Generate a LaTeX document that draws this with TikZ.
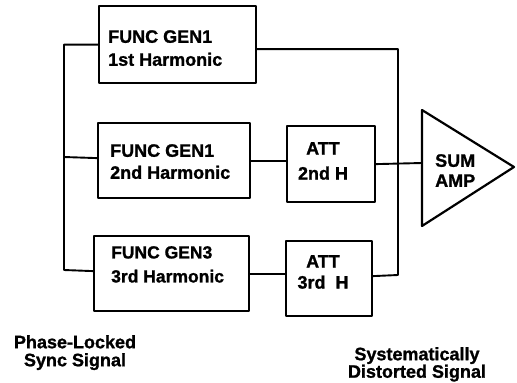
\documentclass[tikz,border=0pt]{standalone}
\usepackage{fontspec}
\setmainfont{Liberation Sans}[BoldFeatures={FakeBold=1.2}]
\begin{document}
\begin{tikzpicture}[x=1pt,y=-1pt,line join=round,
  box/.style={draw,line width=2.2pt,anchor=north west,inner sep=0pt},
  txt/.style={anchor=north west,inner sep=0pt,align=left},
  ctxt/.style={anchor=north,inner sep=0pt,align=center},
  wire/.style={line width=1.9pt}]
\useasboundingbox (0,0) rectangle (517,383);
% boxes
\node[box,minimum width=157pt,minimum height=77pt] (g1) at (98,5) {};
\node[box,minimum width=152pt,minimum height=75pt] (g2) at (97,122) {};
\node[box,minimum width=155pt,minimum height=75pt] (g3) at (93,235) {};
\node[box,minimum width=88pt,minimum height=76pt] (a2) at (286,125) {};
\node[box,minimum width=86pt,minimum height=75pt] (a3) at (285,240) {};
% texts
\node[txt,font=\bfseries\fontsize{18}{23}\selectfont] (t1) at (108,30) {FUNC GEN1\\1st Harmonic};
\node[txt,font=\bfseries\fontsize{18}{22}\selectfont] (t2) at (110,144) {FUNC GEN1\\2nd Harmonic};
\node[txt,font=\bfseries\fontsize{17.5}{24}\selectfont] (t3) at (111,246) {FUNC GEN3\\3rd Harmonic};
\node[ctxt,font=\bfseries\fontsize{18}{25}\selectfont] (u2) at (323,142) {ATT\\2nd H};
\node[ctxt,font=\bfseries\fontsize{18}{21}\selectfont] (u3) at (323,255) {ATT\\3rd\ \ H};
% amplifier
\draw[line width=2.2pt] (422,110) -- (514,167) -- (422,226) -- cycle;
\coordinate (ampin) at (422,163);
\node[txt,font=\bfseries\fontsize{18}{20}\selectfont] (amp) at (435,154) {SUM\\AMP};
% buses
\coordinate (lb) at (64,270);
\coordinate (rb) at (398,275);
\draw[wire] (g1.west) -| (lb) -- ([yshift=2.5pt]g3.west);
\draw[wire] (64,157) -- ([yshift=2.5pt]g2.west);
\draw[wire] ([yshift=-4.5pt]g1.east) -| (rb) -- ([yshift=2.5pt]a3.east);
% chains
\draw[wire] (g2.east) -- (g2.east -| a2.west);
\draw[wire] (a2.east) -- (ampin);
\draw[wire] (g3.east) -- (g3.east -| a3.west);
% captions
\node[ctxt,font=\bfseries\fontsize{18}{18}\selectfont] (ps) at (75,335) {Phase-Locked\\Sync Signal};
\node[ctxt,font=\bfseries\fontsize{18}{17.5}\selectfont] (sd) at (417,347) {Systematically\\Distorted Signal};
\end{tikzpicture}
\end{document}
